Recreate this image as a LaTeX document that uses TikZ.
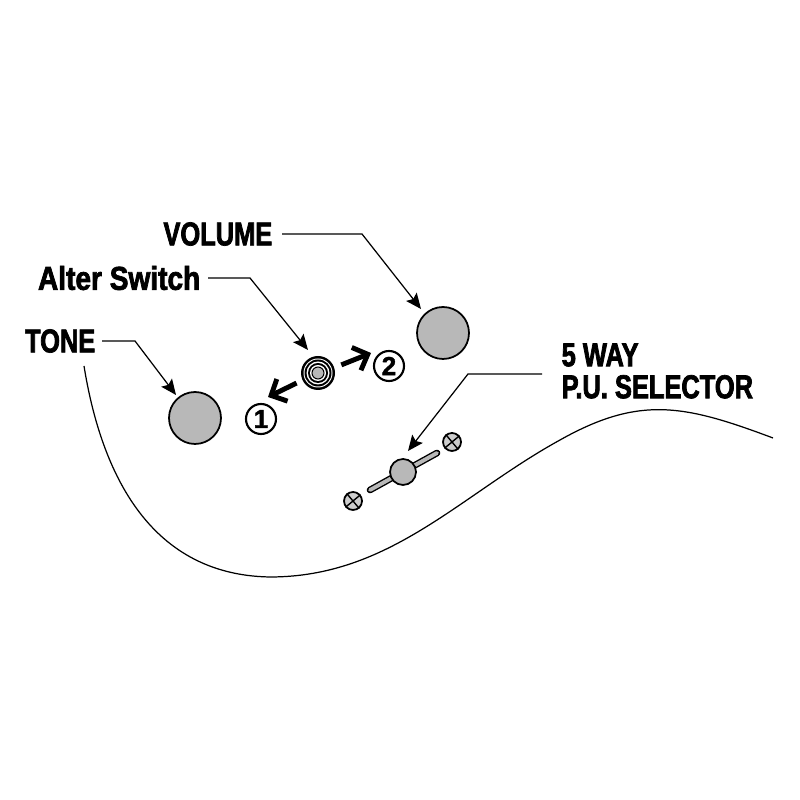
\documentclass[tikz,border=0pt]{standalone}
\usepackage{fontspec}
\newfontfamily\labelfont[FakeStretch=0.77,FakeBold=2.2]{Liberation Sans Bold}
\newfontfamily\alterfont[FakeStretch=0.85,FakeBold=2.2]{Liberation Sans Bold}
\newfontfamily\numfont[FakeBold=1.5]{Liberation Sans Bold}
\usepackage{tikz}
\usetikzlibrary{arrows.meta,positioning,calc}
\definecolor{knobgray}{HTML}{B8B8B8}
\tikzset{
    partlabel/.style={font=\labelfont\fontsize{9.4}{9.1}\selectfont,inner sep=0pt,align=left},
    knob/.style={circle,draw=black,line width=0.5pt,fill=knobgray,inner sep=0pt,minimum size=#1},
    screw/.style={circle,draw=black,line width=0.5pt,fill=knobgray!70,inner sep=0pt,minimum size=0.18cm},
    numcircle/.style={circle,draw=black,line width=0.6pt,fill=white,inner sep=0pt,minimum size=0.30cm,font=\numfont\fontsize{7.4}{8}\selectfont},
    leader/.style={line width=0.35pt,-{Stealth[inset=0.8pt,length=4.4pt,width=3.8pt]}},
    movearrow/.style={line width=1.4pt,-{Straight Barb[length=3.5pt,width=7pt]}}
}
\begin{document}
\begin{tikzpicture}
    \useasboundingbox (0,0) rectangle (8,8);
    % body edge
    \draw[line width=0.35pt] (0.84,4.34) .. controls (1.00,3.35) and (1.45,2.25) .. (2.70,2.23)
        .. controls (3.90,2.23) and (4.60,3.05) .. (5.60,3.60)
        .. controls (6.40,4.05) and (6.85,3.95) .. (7.73,3.62);

    % controls
    \node[knob=0.52cm] (tone) at (1.95,3.82) {};
    \node[knob=0.52cm] (volume) at (4.43,4.67) {};
    \node[circle,fill=black,inner sep=0pt,minimum size=0.34cm] (altsw) at (3.18,4.27) {};
    \foreach \r/\c in {0.145/white,0.135/black,0.115/white,0.10/black,0.08/white} {
            \fill[\c] (altsw) circle (\r);
        }
    \draw[fill=knobgray,line width=0.3pt] (altsw) circle (0.06);
    \node[numcircle] (numone) at (2.61,3.81) {1};
    \node[numcircle] (numtwo) at (3.89,4.34) {2};
    \coordinate (tipone) at (2.68,4.03);
    \coordinate (tiptwo) at (3.71,4.47);
    \draw[movearrow,shorten <=0.06cm] (altsw.205) -- (tipone);
    \draw[movearrow,shorten <=0.07cm] (altsw.18) -- (tiptwo);

    % selector
    \coordinate (slotl) at (3.70,3.10);
    \coordinate (slotr) at (4.37,3.47);
    \draw[line width=1.9pt,line cap=round] (slotl) -- (slotr);
    \draw[line width=1.1pt,line cap=round,knobgray] (slotl) -- (slotr);
    \node[knob=0.26cm] (selector) at (4.03,3.28) {};
    \node[screw] (screwl) at (3.53,2.99) {};
    \node[screw] (screwr) at (4.52,3.58) {};
    \foreach \s in {screwl,screwr} {
            \draw[line width=0.4pt] (\s.40) -- (\s.220);
            \draw[line width=0.4pt] (\s.130) -- (\s.310);
        }

    % labels
    \node[partlabel,anchor=east] (lblvolume) at (2.73,5.66) {VOLUME};
    \node[partlabel,anchor=east,font=\alterfont\fontsize{9.4}{10.6}\selectfont] (lblalter) at (2.01,5.22) {Alter Switch};
    \node[partlabel,anchor=east] (lbltone) at (0.96,4.59) {TONE};
    \node[partlabel,anchor=west] (lblway) at (5.61,4.29) {5 WAY\\P.U. SELECTOR};
    \coordinate (bendvolume) at (3.62,5.66);
    \coordinate (bendalter) at (2.50,5.22);
    \coordinate (bendtone) at (1.35,4.59);
    \coordinate (bendway) at (4.68,4.26);
    \coordinate (startway) at (5.42,4.26);
    \draw[leader] ($(lblvolume.east)+(0.09,0)$) -- (bendvolume) -- ($(volume)+(-0.22,0.24)$);
    \draw[leader] ($(lblalter.east)+(0.07,0)$) -- (bendalter) -- ($(altsw)+(-0.10,0.23)$);
    \draw[leader] ($(lbltone.east)+(0.06,0)$) -- (bendtone) -- ($(tone)+(-0.19,0.23)$);
    \draw[leader] (startway) -- (bendway) -- ($(selector)+(0.05,0.21)$);
\end{tikzpicture}
\end{document}
